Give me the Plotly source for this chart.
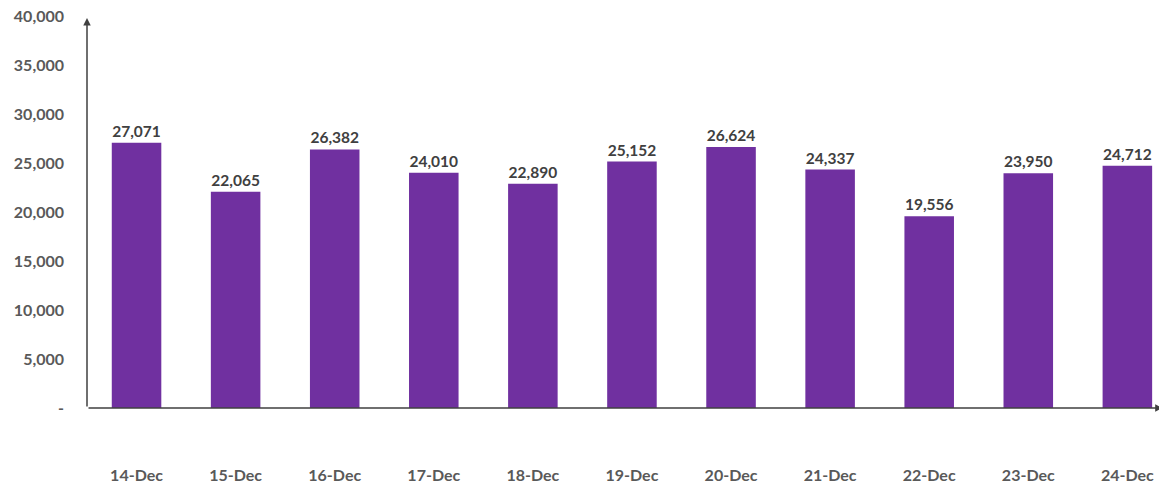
import plotly.graph_objects as go

categories = ["14-Dec", "15-Dec", "16-Dec", "17-Dec", "18-Dec", "19-Dec",
              "20-Dec", "21-Dec", "22-Dec", "23-Dec", "24-Dec"]
values = [27071, 22065, 26382, 24010, 22890, 25152, 26624, 24337, 19556, 23950, 24712]
y_tickvals = [0, 5000, 10000, 15000, 20000, 25000, 30000, 35000, 40000]
y_ticktext = ["-", "5,000", "10,000", "15,000", "20,000", "25,000", "30,000", "35,000", "40,000"]

FONT = "Lato"
GRAY = "#595959"

fig = go.Figure(go.Bar(
    x=categories, y=values,
    marker=dict(color="#7030A0", line=dict(width=0)),
    text=[f"{v:,}" for v in values],
    textposition="outside",
    textfont=dict(family=FONT, size=15.5, color="#404040", weight="bold"),
    cliponaxis=False,
))

fig.update_layout(
    width=1159, height=478,
    margin=dict(l=79, r=0, t=8, b=78, autoexpand=False),
    paper_bgcolor="white", plot_bgcolor="white",
    bargap=0.5,
    showlegend=False,
    font=dict(family=FONT, color=GRAY),
    xaxis=dict(
        range=[-0.5, 10.4], automargin=False,
        showgrid=False, showline=False, zeroline=False,
        ticks="", ticklabelstandoff=56, ticklabeloverflow="allow",
        tickfont=dict(family=FONT, size=16, color=GRAY, weight="bold"),
    ),
    yaxis=dict(
        range=[0, 40000], automargin=False,
        tickvals=y_tickvals, ticktext=y_ticktext,
        showgrid=False, showline=False, zeroline=False,
        ticks="", ticklabelstandoff=22, ticklabeloverflow="allow",
        tickfont=dict(family=FONT, size=16, color=GRAY, weight="bold"),
    ),
)

# axis lines with arrowheads
fig.add_annotation(x=0, y=0.995, xref="x domain", yref="y domain",
                   ax=0, ay=0, axref="x domain", ayref="y domain",
                   showarrow=True, arrowhead=2, arrowsize=1, arrowwidth=1.5,
                   arrowcolor="#404040", text="")
fig.add_annotation(x=0.996, y=0, xref="x domain", yref="y domain",
                   ax=0, ay=0, axref="x domain", ayref="y domain",
                   showarrow=True, arrowhead=2, arrowsize=1, arrowwidth=1.5,
                   arrowcolor="#404040", text="")

fig.write_html("out.html")
